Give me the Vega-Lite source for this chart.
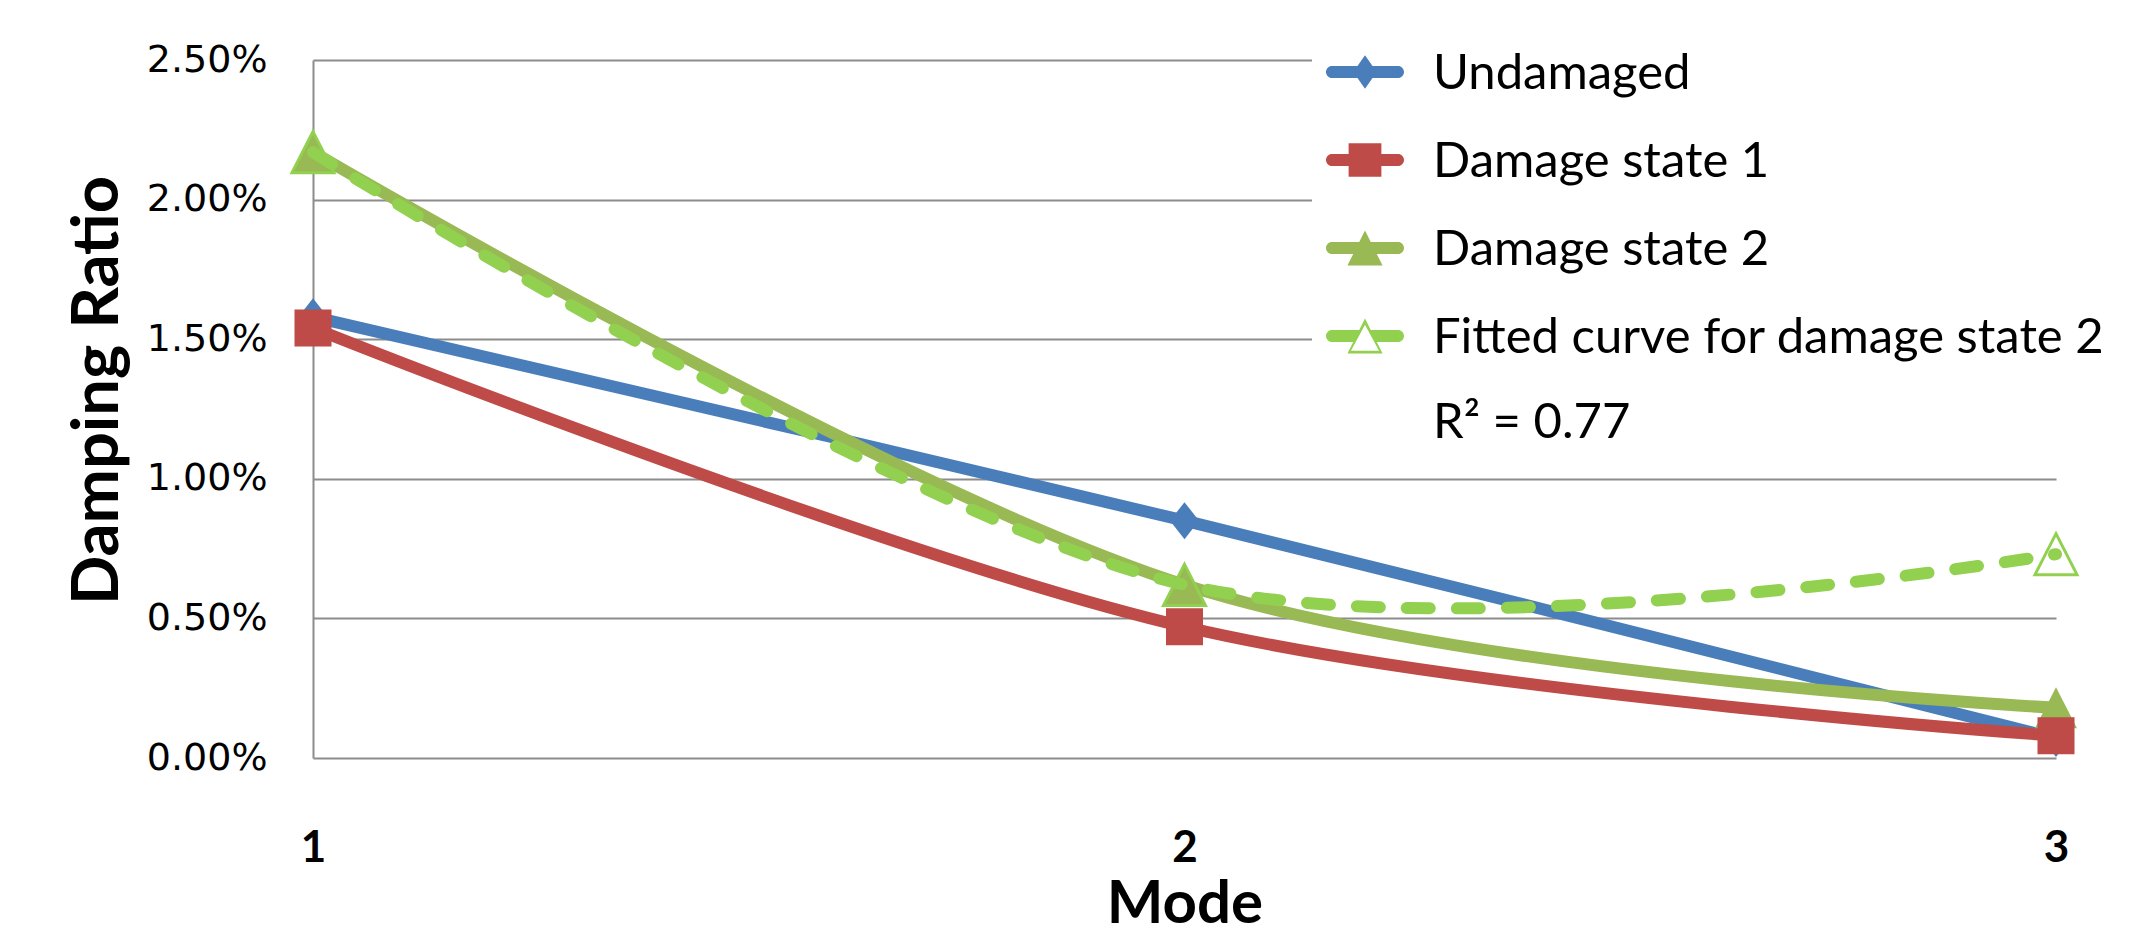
{
  "$schema": "https://vega.github.io/schema/vega-lite/v6.json",
  "width": 1743,
  "height": 698,
  "autosize": {"type": "none"},
  "padding": {"left": 313, "top": 60, "right": 90, "bottom": 175},
  "background": "white",
  "config": {"view": {"stroke": null}, "font": "Lato", "axisX": {"labelOverlap": false}},
  "data": {"values": [
    {"mode": 1, "series": "Undamaged", "value": 0.0158},
    {"mode": 2, "series": "Undamaged", "value": 0.0085},
    {"mode": 3, "series": "Undamaged", "value": 0.0007},
    {"mode": 1, "series": "Damage state 2", "value": 0.0217},
    {"mode": 2, "series": "Damage state 2", "value": 0.0062},
    {"mode": 3, "series": "Damage state 2", "value": 0.0018},
    {"mode": 1, "series": "Damage state 1", "value": 0.0154},
    {"mode": 2, "series": "Damage state 1", "value": 0.0047},
    {"mode": 3, "series": "Damage state 1", "value": 0.0008},
    {"mode": 1, "series": "Fitted curve for damage state 2", "value": 0.0217},
    {"mode": 2, "series": "Fitted curve for damage state 2", "value": 0.0062},
    {"mode": 3, "series": "Fitted curve for damage state 2", "value": 0.0073}
  ]},
  "encoding": {
    "x": {
      "field": "mode", "type": "quantitative", "title": "Mode",
      "scale": {"domain": [1, 3], "nice": false, "zero": false},
      "axis": {
        "values": [1, 2, 3], "grid": false, "domain": false,
        "ticks": false, "tickSize": 0, "labelFlush": false, "labelOverlap": false, "labelBound": false,
        "labelExpr": "format(datum.value, 'd')",
        "labelFont": "Lato", "labelFontWeight": "bold", "labelFontSize": 44, "labelColor": "black",
        "labelPadding": 68,
        "titleFont": "Lato", "titleFontWeight": "bold", "titleFontSize": 60, "titleColor": "black",
        "titleBaseline": "alphabetic", "titleY": 164
      }
    },
    "y": {
      "field": "value", "type": "quantitative", "title": "Damping Ratio",
      "scale": {"domain": [0, 0.025], "nice": false},
      "axis": {
        "values": [0, 0.005, 0.01, 0.015, 0.02, 0.025], "format": ".2%",
        "grid": true, "gridColor": "#8c8c8c", "gridWidth": 2, "gridOpacity": 1,
        "domain": true, "domainColor": "#8c8c8c", "domainWidth": 2,
        "ticks": false, "tickSize": 0,
        "labelFont": "DejaVu Sans", "labelFontSize": 38, "labelColor": "black", "labelPadding": 46,
        "titleFont": "Lato", "titleFontWeight": "bold", "titleFontSize": 65, "titleColor": "black",
        "titleAngle": -90, "titleAlign": "center", "titleBaseline": "middle",
        "titleX": -216, "titleY": 330
      }
    },
    "color": {
      "field": "series", "type": "nominal",
      "scale": {
        "domain": ["Undamaged", "Damage state 1", "Damage state 2", "Fitted curve for damage state 2"],
        "range": ["#4A7EBB", "#BE4B48", "#98B954", "#92D050"]
      },
      "legend": {
        "title": null, "orient": "none", "legendX": 999, "legendY": -41,
        "padding": 14, "fillColor": "white", "strokeColor": null,
        "symbolSize": 6084, "symbolStrokeWidth": 0,
        "labelFont": "Lato", "labelFontSize": 49, "labelColor": "black",
        "labelOffset": 29, "labelLimit": 1200, "rowPadding": 22,
        "labelBaseline": "alphabetic",
        "labelExpr": "datum.label === 'Fitted curve for damage state 2' ? ['Fitted curve for damage state 2', 'R² = 0.77'] : datum.label",
        "encode": {
          "symbols": {"update": {
            "shape": {"signal": "datum.value === 'Undamaged' ? 'M-0.846,-0.154L0.846,-0.154A0.154,0.154 0 0 1 0.846,0.154L-0.846,0.154A0.154,0.154 0 0 1 -0.846,-0.154ZM0,-0.43L0.3,0L0,0.43L-0.3,0Z' : datum.value === 'Damage state 1' ? 'M-0.846,-0.154L0.846,-0.154A0.154,0.154 0 0 1 0.846,0.154L-0.846,0.154A0.154,0.154 0 0 1 -0.846,-0.154ZM-0.42,-0.43L0.42,-0.43L0.42,0.43L-0.42,0.43Z' : datum.value === 'Damage state 2' ? 'M-0.846,-0.154L0.846,-0.154A0.154,0.154 0 0 1 0.846,0.154L-0.846,0.154A0.154,0.154 0 0 1 -0.846,-0.154ZM0,-0.45L0.45,0.45L-0.45,0.45Z' : 'M-0.846,-0.154L-0.13,-0.154L-0.28,0.154L-0.846,0.154A0.154,0.154 0 0 1 -0.846,-0.154ZM0.13,-0.154L0.846,-0.154A0.154,0.154 0 0 1 0.846,0.154L0.28,0.154ZM0,-0.45L0.45,0.45L-0.45,0.45ZM0,-0.29L-0.36,0.38L0.36,0.38Z'"},
            "fill": {"signal": "scale('color', datum.value)"},
            "stroke": {"value": "transparent"},
            "opacity": {"value": 1}
          }},
          "labels": {"update": {"dy": {"value": 17}, "lineHeight": {"value": 85}}}
        }
      }
    }
  },
  "layer": [
    {
      "transform": [{"filter": "datum.series !== 'Fitted curve for damage state 2'"}],
      "mark": {"type": "line", "interpolate": "cardinal", "strokeWidth": 12, "strokeCap": "round", "strokeJoin": "round"}
    },
    {
      "transform": [{"filter": "datum.series !== 'Fitted curve for damage state 2'"}],
      "mark": {"type": "point", "filled": true, "opacity": 1, "size": 1369, "strokeWidth": 0},
      "encoding": {
        "shape": {
          "field": "series", "type": "nominal", "legend": null,
          "scale": {
            "domain": ["Undamaged", "Damage state 1", "Damage state 2"],
            "range": ["M0,-1L0.784,0L0,1L-0.784,0Z", "square", "M0,-1.108L1.135,1.108L-1.135,1.108Z"]
          }
        }
      }
    },
    {
      "transform": [{"filter": "datum.series === 'Fitted curve for damage state 2'"}],
      "mark": {"type": "line", "interpolate": "cardinal", "strokeWidth": 12, "strokeCap": "round", "strokeJoin": "round", "strokeDash": [23, 27]}
    },
    {
      "transform": [{"filter": "datum.series === 'Fitted curve for damage state 2'"}],
      "mark": {"type": "point", "filled": false, "opacity": 1, "size": 1369, "strokeWidth": 3, "shape": "M0,-1.108L1.135,1.108L-1.135,1.108Z"}
    }
  ]
}
